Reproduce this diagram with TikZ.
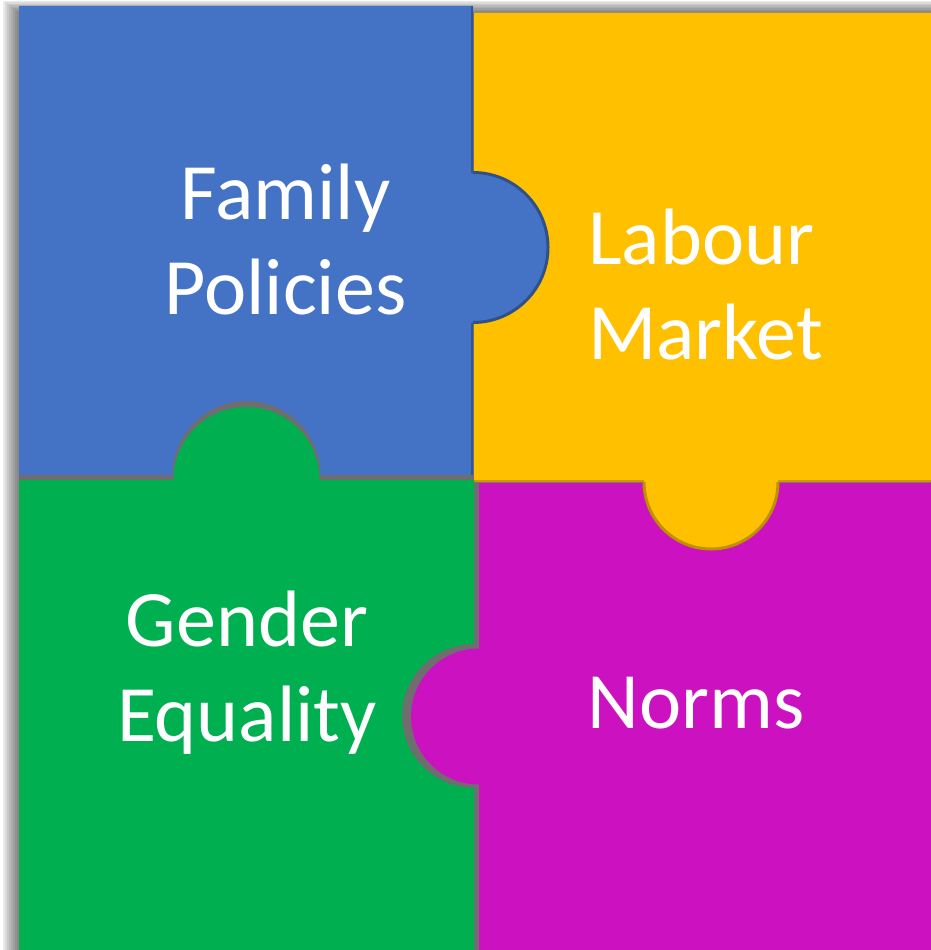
\documentclass[tikz,border=0pt]{standalone}
\usepackage{fontspec}
\setmainfont{Carlito}
\usepackage{tikz}
\definecolor{pieceblue}{HTML}{4472C4}
\definecolor{pieceyellow}{HTML}{FFC000}
\definecolor{piecegreen}{HTML}{00B050}
\definecolor{piecemagenta}{HTML}{CC12C0}
\definecolor{gapgray}{HTML}{6E6E6E}
\tikzset{piecetext/.style={text=white, font=\fontsize{80}{95}\selectfont, inner sep=0pt}}

\begin{document}
\begin{tikzpicture}[x=1pt, y=-1pt]
\useasboundingbox (0,0) rectangle (931,950);
\fill[white] (0,0) rectangle (931,950);
\foreach \k in {1,...,8}
  \fill[black, opacity=0.075] (19-2*\k,13-1.5*\k) rectangle (931,950);
\fill[gapgray] (19,13) rectangle (931,950);

\fill[piecemagenta] (479,483) -- (931,483) -- (931,950) -- (479,950) -- (479,784.5)
  arc[start angle=90, end angle=270, radius=68] -- cycle;

\fill[pieceyellow] (474,13) -- (931,13) -- (931,482) -- (778,482)
  arc[start angle=0, end angle=180, radius=67] -- (474,482) -- cycle;
\draw[pieceyellow!75!black, line width=3] (778,482) arc[start angle=0, end angle=180, radius=67];
\draw[pieceyellow!80!black, line width=2] (474,481) -- (644,481) (778,481) -- (931,481);

\fill[piecegreen] (19,480) -- (173.5,480) arc[start angle=180, end angle=360, radius=73]
  -- (474,480) -- (474,644) arc[start angle=270, end angle=90, radius=72]
  -- (474,950) -- (19,950) -- cycle;

\fill[pieceblue] (19,6) -- (473,6) -- (473,172.5) arc[start angle=-90, end angle=90, radius=75]
  -- (473,475) -- (320.5,475) arc[start angle=0, end angle=-180, radius=74]
  -- (19,475) -- cycle;
\draw[pieceblue!70!black, line width=3] (473,172.5) arc[start angle=-90, end angle=90, radius=75];
\draw[pieceblue!75!black, line width=2] (472,6) -- (472,172.5) (472,322.5) -- (472,475);

\node[piecetext, align=center] (fampol) at (285.5,240) {Family\\Policies};
\node[piecetext, align=left, anchor=west] (labmar) at (588,285) {Labour\\Market};
\node[piecetext, align=center] (gendeq) at (247,673) {Gender\\Equality};
\node[piecetext] (norms) at (696,703) {Norms};
\end{tikzpicture}
\end{document}
